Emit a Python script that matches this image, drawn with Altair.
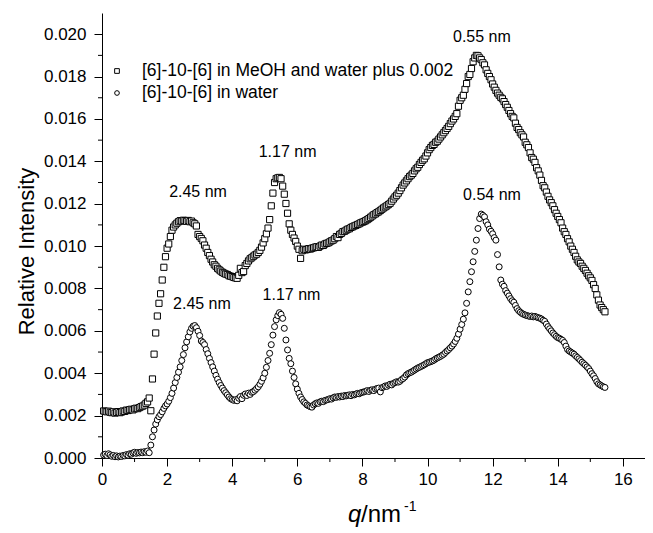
import altair as alt
import pandas as pd

S_LABEL = "[6]-10-[6] in MeOH and water plus 0.002"
W_LABEL = "[6]-10-[6] in water"

# scattering vector grid (nm^-1), uniform sampling of the measurement
Q_FIRST = 0.05
Q_STEP = 0.05

# [6]-10-[6] in MeOH and water (offset +0.002), one row per 1 nm^-1
MEOH = [
    .00222, .00220, .00218, .00221, .00216, .00214, .00218, .00212, .00215, .00219,
    .00214, .00217, .00222, .00220, .00226, .00224, .00228, .00230, .00227, .00232,
    .00235, .00233, .00238, .00242, .00245, .00250, .00258, .00265, .00283, .00223,
    .00373, .00490, .00590, .00670, .00730, .00775, .00840, .00900, .00950, .00990,
    .01010, .01045, .01075, .01090, .01100, .01108, .01115, .01120, .01118, .01122,
    .01120, .01117, .01121, .01115, .01118, .01110, .01105, .01095, .01055, .01045,
    .01036, .01025, .01005, .00990, .00970, .00955, .00938, .00925, .00912, .00905,
    .00895, .00888, .00882, .00876, .00872, .00868, .00866, .00860, .00858, .00856,
    .00852, .00850, .00848, .00862, .00895, .00875, .00880, .00908, .00918, .00930,
    .00940, .00945, .00952, .00958, .00962, .00970, .00980, .00995, .01015, .01035,
    .01058, .01085, .01125, .01190, .01250, .01300, .01318, .01322, .01324, .01318,
    .01283, .01245, .01201, .01155, .01105, .01075, .01055, .01038, .01022, .01000,
    .00985, .00942, .00978, .00985, .00982, .00984, .00988, .00986, .00990, .00992,
    .00995, .00997, .00994, .01000, .01005, .01003, .01010, .01013, .01015, .01020,
    .01025, .01028, .01035, .01045, .01040, .01055, .01060, .01068, .01070, .01075,
    .01080, .01082, .01088, .01091, .01095, .01098, .01102, .01105, .01110, .01113,
    .01116, .01120, .01125, .01130, .01136, .01142, .01148, .01152, .01158, .01162,
    .01168, .01174, .01180, .01185, .01190, .01196, .01202, .01212, .01222, .01232,
    .01240, .01250, .01262, .01275, .01288, .01298, .01308, .01318, .01328, .01335,
    .01343, .01355, .01365, .01372, .01385, .01395, .01405, .01412, .01425, .01440,
    .01455, .01465, .01475, .01480, .01490, .01495, .01505, .01515, .01525, .01535,
    .01545, .01555, .01565, .01578, .01590, .01600, .01612, .01625, .01660, .01688,
    .01700, .01712, .01740, .01767, .01800, .01810, .01838, .01870, .01888, .01900,
    .01898, .01888, .01880, .01865, .01855, .01832, .01815, .01800, .01785, .01765,
    .01750, .01735, .01722, .01712, .01702, .01695, .01682, .01668, .01655, .01640,
    .01625, .01612, .01605, .01580, .01560, .01550, .01535, .01525, .01515, .01490,
    .01478, .01465, .01440, .01418, .01410, .01395, .01370, .01355, .01335, .01310,
    .01285, .01275, .01255, .01235, .01218, .01205, .01190, .01172, .01155, .01140,
    .01125, .01110, .01085, .01068, .01055, .01035, .01020, .01000, .00985, .00970,
    .00952, .00935, .00925, .00918, .00905, .00895, .00885, .00872, .00860, .00850,
    .00838, .00818, .00800, .00770, .00745, .00722, .00710, .00700, .00690,
]

# [6]-10-[6] in water
WATER = [
    .00014, .00018, .00012, .00020, .00015, .00008, .00012, .00006, .00010, .00005,
    .00009, .00007, .00012, .00010, .00016, .00013, .00020, .00018, .00024, .00027,
    .00022, .00026, .00024, .00028, .00025, .00030, .00027, .00033, .00025, .00061,
    .00100, .00132, .00160, .00180, .00195, .00205, .00218, .00234, .00246, .00255,
    .00268, .00285, .00305, .00330, .00356, .00380, .00405, .00430, .00460, .00488,
    .00520, .00548, .00572, .00595, .00612, .00622, .00625, .00615, .00598, .00578,
    .00552, .00545, .00535, .00512, .00492, .00470, .00450, .00430, .00410, .00390,
    .00372, .00356, .00342, .00330, .00318, .00308, .00298, .00288, .00280, .00276,
    .00272, .00275, .00270, .00282, .00290, .00280, .00296, .00302, .00295, .00306,
    .00300, .00310, .00313, .00320, .00328, .00336, .00348, .00362, .00378, .00400,
    .00428, .00460, .00494, .00535, .00580, .00620, .00652, .00672, .00686, .00678,
    .00659, .00612, .00557, .00510, .00470, .00445, .00410, .00380, .00350, .00325,
    .00305, .00288, .00276, .00265, .00258, .00250, .00246, .00242, .00240, .00250,
    .00256, .00260, .00258, .00265, .00268, .00266, .00272, .00274, .00276, .00280,
    .00278, .00284, .00288, .00286, .00290, .00288, .00292, .00290, .00295, .00293,
    .00296, .00298, .00294, .00300, .00298, .00302, .00305, .00303, .00308, .00310,
    .00312, .00315, .00318, .00314, .00320, .00322, .00318, .00325, .00328, .00330,
    .00312, .00332, .00335, .00340, .00338, .00344, .00348, .00345, .00352, .00356,
    .00360, .00358, .00362, .00370, .00375, .00382, .00392, .00398, .00402, .00405,
    .00410, .00415, .00420, .00425, .00428, .00432, .00436, .00440, .00445, .00450,
    .00452, .00455, .00458, .00462, .00468, .00472, .00476, .00480, .00485, .00490,
    .00498, .00505, .00512, .00520, .00528, .00538, .00550, .00565, .00585, .00608,
    .00630, .00655, .00685, .00730, .00784, .00832, .00879, .00926, .00975, .01028,
    .01083, .01130, .01151, .01145, .01138, .01115, .01100, .01080, .01070, .01058,
    .01040, .01028, .00960, .00902, .00840, .00820, .00810, .00790, .00778, .00765,
    .00752, .00742, .00735, .00720, .00705, .00695, .00688, .00682, .00678, .00675,
    .00672, .00670, .00668, .00670, .00666, .00668, .00665, .00662, .00660, .00656,
    .00650, .00645, .00632, .00620, .00610, .00600, .00590, .00582, .00574, .00568,
    .00565, .00560, .00555, .00545, .00528, .00512, .00505, .00500, .00495, .00490,
    .00482, .00475, .00468, .00460, .00452, .00445, .00438, .00430, .00422, .00410,
    .00398, .00388, .00375, .00360, .00350, .00345, .00340, .00336, .00333,
]

# peak annotations: label, q position, intensity position
PEAK_TEXT = ["2.45 nm", "1.17 nm", "0.55 nm", "2.45 nm", "1.17 nm", "0.54 nm"]
PEAK_Q = [2.95, 5.70, 11.67, 3.07, 5.82, 11.98]
PEAK_I = [0.01255, 0.01445, 0.01985, 0.00726, 0.00770, 0.01240]

X_TICKS = [0, 2, 4, 6, 8, 10, 12, 14, 16]
X_MINOR = [1, 3, 5, 7, 9, 11, 13, 15]
Y_TICKS = [0.000, 0.002, 0.004, 0.006, 0.008, 0.010, 0.012, 0.014, 0.016, 0.018, 0.020]
Y_MINOR = [0.001, 0.003, 0.005, 0.007, 0.009, 0.011, 0.013, 0.015, 0.017, 0.019]

FONT = "Liberation Sans"
W, H = 543, 445
X_DOMAIN = [0, 16.68]
Y_DOMAIN = [0, 0.021]

meoh_df = pd.DataFrame({"q": [round(Q_FIRST + Q_STEP * i, 2) for i in range(len(MEOH))], "I": MEOH})
water_df = pd.DataFrame({"q": [round(Q_FIRST + Q_STEP * i, 2) for i in range(len(WATER))], "I": WATER})
peaks_df = pd.DataFrame({"q": PEAK_Q, "I": PEAK_I, "t": PEAK_TEXT})

xs = alt.Scale(domain=X_DOMAIN, nice=False, zero=False)
ys = alt.Scale(domain=Y_DOMAIN, nice=False, zero=False)

x_axis = alt.Axis(values=X_TICKS, format="d", tickSize=8, labelFontSize=17, labelPadding=5,
                  labelFont=FONT, labelColor="black", domainColor="black", tickColor="black",
                  grid=False, title=None, labelFlush=False)
y_axis = alt.Axis(values=Y_TICKS, format=".3f", tickSize=8, labelFontSize=17, labelPadding=8,
                  labelFont=FONT, labelColor="black", domainColor="black", tickColor="black",
                  grid=False, title="Relative Intensity", titleFont=FONT, titleFontSize=22,
                  titleFontWeight="normal", titleColor="black", titleAngle=270,
                  titleX=-76, titleY=238, titleAlign="center", titleBaseline="middle")


def X():
    return alt.X("q:Q", scale=xs, axis=x_axis)


def Y():
    return alt.Y("I:Q", scale=ys, axis=y_axis)


squares = alt.Chart(meoh_df).mark_point(shape="square", filled=True, fill="white", stroke="black",
                                        strokeWidth=1, size=38, opacity=1).encode(x=X(), y=Y())
circles = alt.Chart(water_df).mark_point(shape="circle", filled=True, fill="white", stroke="black",
                                         strokeWidth=1, size=36, opacity=1).encode(x=X(), y=Y())

x_minor = alt.Chart(pd.DataFrame({"q": X_MINOR})).mark_rule(color="black", strokeWidth=1).encode(
    x=X(), y=alt.value(H), y2=alt.value(H + 4))
y_minor = alt.Chart(pd.DataFrame({"I": Y_MINOR})).mark_rule(color="black", strokeWidth=1).encode(
    y=Y(), x=alt.value(-4), x2=alt.value(0))

peaks = alt.Chart(peaks_df).mark_text(font=FONT, fontSize=16, color="black",
                                      align="center", baseline="middle").encode(
    x=X(), y=Y(), text="t:N")

one = pd.DataFrame({"k": [0]})
leg_sq = alt.Chart(one).mark_point(shape="square", filled=True, fill="white", stroke="black", size=22,
                                   strokeWidth=1, opacity=1).encode(x=alt.value(15), y=alt.value(58))
leg_ci = alt.Chart(one).mark_point(shape="circle", filled=True, fill="white", stroke="black", size=22,
                                   strokeWidth=1, opacity=1).encode(x=alt.value(15), y=alt.value(80))
leg_t1 = alt.Chart(one).mark_text(text=S_LABEL, font=FONT, fontSize=17.5, color="black",
                                  align="left", baseline="middle").encode(x=alt.value(40), y=alt.value(58))
leg_t2 = alt.Chart(one).mark_text(text=W_LABEL, font=FONT, fontSize=17.5, color="black",
                                  align="left", baseline="middle").encode(x=alt.value(40), y=alt.value(80))

xt_q = alt.Chart(one).mark_text(text="q", font=FONT, fontSize=24, fontStyle="italic", color="black",
                                align="left", baseline="alphabetic").encode(x=alt.value(246), y=alt.value(509))
xt_nm = alt.Chart(one).mark_text(text="/nm", font=FONT, fontSize=24, color="black",
                                 align="left", baseline="alphabetic").encode(x=alt.value(259), y=alt.value(509))
xt_sup = alt.Chart(one).mark_text(text="-1", font=FONT, fontSize=14, color="black",
                                  align="left", baseline="alphabetic").encode(x=alt.value(302), y=alt.value(498))

chart = alt.layer(
    squares, circles, x_minor, y_minor, peaks,
    leg_sq, leg_ci, leg_t1, leg_t2, xt_q, xt_nm, xt_sup,
).properties(
    width=W, height=H,
    padding={"left": 94, "top": 5, "right": 0, "bottom": 70},
    autosize=alt.AutoSizeParams(type="none"),
    background="white",
).configure_view(stroke=None)

chart.save("out.html", embed_options={"renderer": "svg", "actions": False})
